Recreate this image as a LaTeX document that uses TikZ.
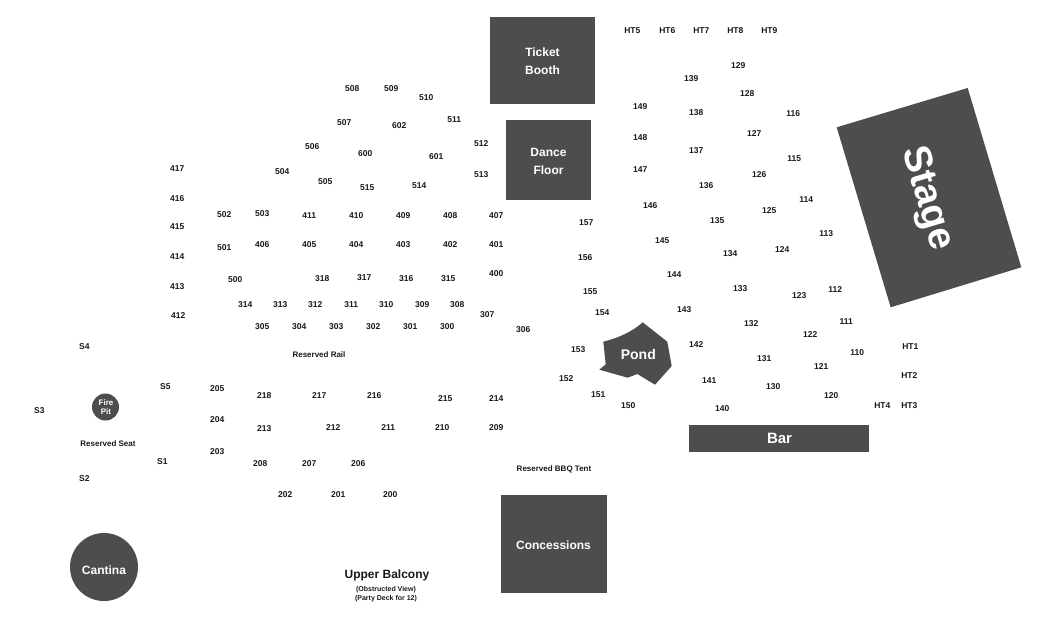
\documentclass[tikz,border=0pt]{standalone}
\usepackage{fontspec}
\setmainfont{Liberation Sans}
\definecolor{venue}{HTML}{4D4D4D}
\tikzset{
  seat/.style={font=\bfseries\fontsize{8.5}{10}\selectfont, text=black!90, inner sep=0pt},
  reserved/.style={font=\bfseries\fontsize{8}{10}\selectfont, text=black!90, inner sep=0pt},
  area/.style={fill=venue, draw=none},
  arealabel/.style={font=\bfseries\fontsize{12}{18}\selectfont, text=white, align=center, inner sep=0pt},
}
\begin{document}
\begin{tikzpicture}[x=1pt,y=-1pt]
\useasboundingbox (0,0) rectangle (1050,624);
% big blocks
\node[area, minimum width=105pt, minimum height=87pt, inner sep=0pt] (booth) at (542.5,60.5) {};
\node[arealabel] (boothlabel) at (542.5,61.5) {Ticket\\Booth};
\node[area, minimum width=85pt, minimum height=80pt, inner sep=0pt] (dance) at (548.5,160) {};
\node[arealabel] (dancelabel) at (548.5,161) {Dance\\Floor};
\node[area, minimum width=106pt, minimum height=98pt, inner sep=0pt] (concessions) at (554,544) {};
\node[arealabel] (concessionslabel) at (553.5,545) {Concessions};
\node[area, minimum width=180pt, minimum height=27pt, inner sep=0pt] (bar) at (779,438.5) {};
\node[arealabel, font=\bfseries\fontsize{15}{18}\selectfont] (barlabel) at (779.5,438.5) {Bar};
\node[area, circle, minimum size=68pt, inner sep=0pt] (cantina) at (104,567) {};
\node[arealabel] (cantinalabel) at (104,570.5) {Cantina};
\node[area, circle, minimum size=27pt, inner sep=0pt] (firepit) at (105.5,407) {};
\node[arealabel, font=\bfseries\fontsize{8}{8.5}\selectfont] (firepitlabel) at (106,407) {Fire\\Pit};
% stage and pond
\fill[venue] (967.7,88) -- (836.7,127.3) -- (890.7,307.3) -- (1021.3,267.3) -- cycle;
\node[arealabel, font=\bfseries\fontsize{39}{44}\selectfont, rotate=-73.4] (stagelabel) at (926.5,198.5) {Stage};
\fill[venue] (642.7,322.3) -- (667.3,341.7) -- (671.7,366) -- (655,384.7) -- (637.3,374)
  -- (627.7,377.7) -- (599.3,369.7) -- (605.7,364.3) -- (603.3,341.7)
  .. controls (618,338) and (632,332) .. cycle;
\node[arealabel, font=\bfseries\fontsize{14}{16}\selectfont] (pondlabel) at (638.3,354.5) {Pond};
% seats, x/y/text
\foreach \x/\y/\lbl in {
  632/30/HT5, 667/30/HT6, 701/30/HT7, 735/30/HT8, 769/30/HT9,
  738/65/129, 691/78/139, 747/93/128, 640/106/149, 696/112/138, 793/113/116,
  754/133/127, 640/137/148, 696/150/137, 794/158/115, 640/169/147, 759/174/126,
  706/185/136, 650/205/146, 769/210/125, 806/199/114, 717/220/135, 826/233/113,
  662/240/145, 782/249/124, 730/253/134, 674/274/144, 740/288/133, 799/295/123,
  835/289/112, 684/309/143, 751/323/132, 846/321/111, 810/334/122, 696/344/142,
  764/358/131, 857/352/110, 821/366/121, 709/380/141, 773/386/130, 831/395/120,
  722/408/140, 910/346/HT1, 909/375/HT2, 909/405/HT3, 882/405/HT4,
  586/222/157, 585/257/156, 590/291/155, 602/312/154, 578/349/153, 566/378/152,
  598/394/151, 628/405/150,
  352/88/508, 391/88/509, 426/97/510, 454/119/511, 344/122/507, 399/125/602,
  481/143/512, 312/146/506, 365/153/600, 436/156/601, 282/171/504, 481/174/513,
  325/181/505, 367/187/515, 419/185/514, 177/168/417, 177/198/416, 177/226/415,
  177/256/414, 177/286/413, 178/315/412, 224/214/502, 262/213/503, 309/215/411,
  356/215/410, 403/215/409, 450/215/408, 496/215/407, 224/247/501, 262/244/406,
  309/244/405, 356/244/404, 403/244/403, 450/244/402, 496/244/401, 496/273/400,
  235/279/500, 322/278/318, 364/277/317, 406/278/316, 448/278/315, 245/304/314,
  280/304/313, 315/304/312, 351/304/311, 386/304/310, 422/304/309, 457/304/308,
  487/314/307, 523/329/306, 262/326/305, 299/326/304, 336/326/303, 373/326/302,
  410/326/301, 447/326/300,
  217/388/205, 264/395/218, 319/395/217, 374/395/216, 445/398/215, 496/398/214,
  217/419/204, 264/428/213, 333/427/212, 388/427/211, 442/427/210, 496/427/209,
  217/451/203, 260/463/208, 309/463/207, 358/463/206, 285/494/202, 338/494/201,
  390/494/200,
  84/346/S4, 165/386/S5, 39/410/S3, 162/461/S1, 84/478/S2}
  \node[seat, yshift=-0.7pt, xshift=0.3pt] (seat\lbl) at (\x,\y) {\lbl};
% reserved areas
\node[reserved] (rail) at (319,354.5) {Reserved Rail};
\node[reserved] (resseat) at (108,443.5) {Reserved Seat};
\node[reserved] (tent) at (554,469.5) {Reserved BBQ Tent};
\node[seat, font=\bfseries\fontsize{12}{14}\selectfont] (balcony) at (387,575) {Upper Balcony};
\node[seat, font=\bfseries\fontsize{7}{8}\selectfont] (obstructed) at (386,589.5) {(Obstructed View)};
\node[seat, font=\bfseries\fontsize{7}{8}\selectfont] (deck) at (386,598.5) {(Party Deck for 12)};
\end{tikzpicture}
\end{document}
